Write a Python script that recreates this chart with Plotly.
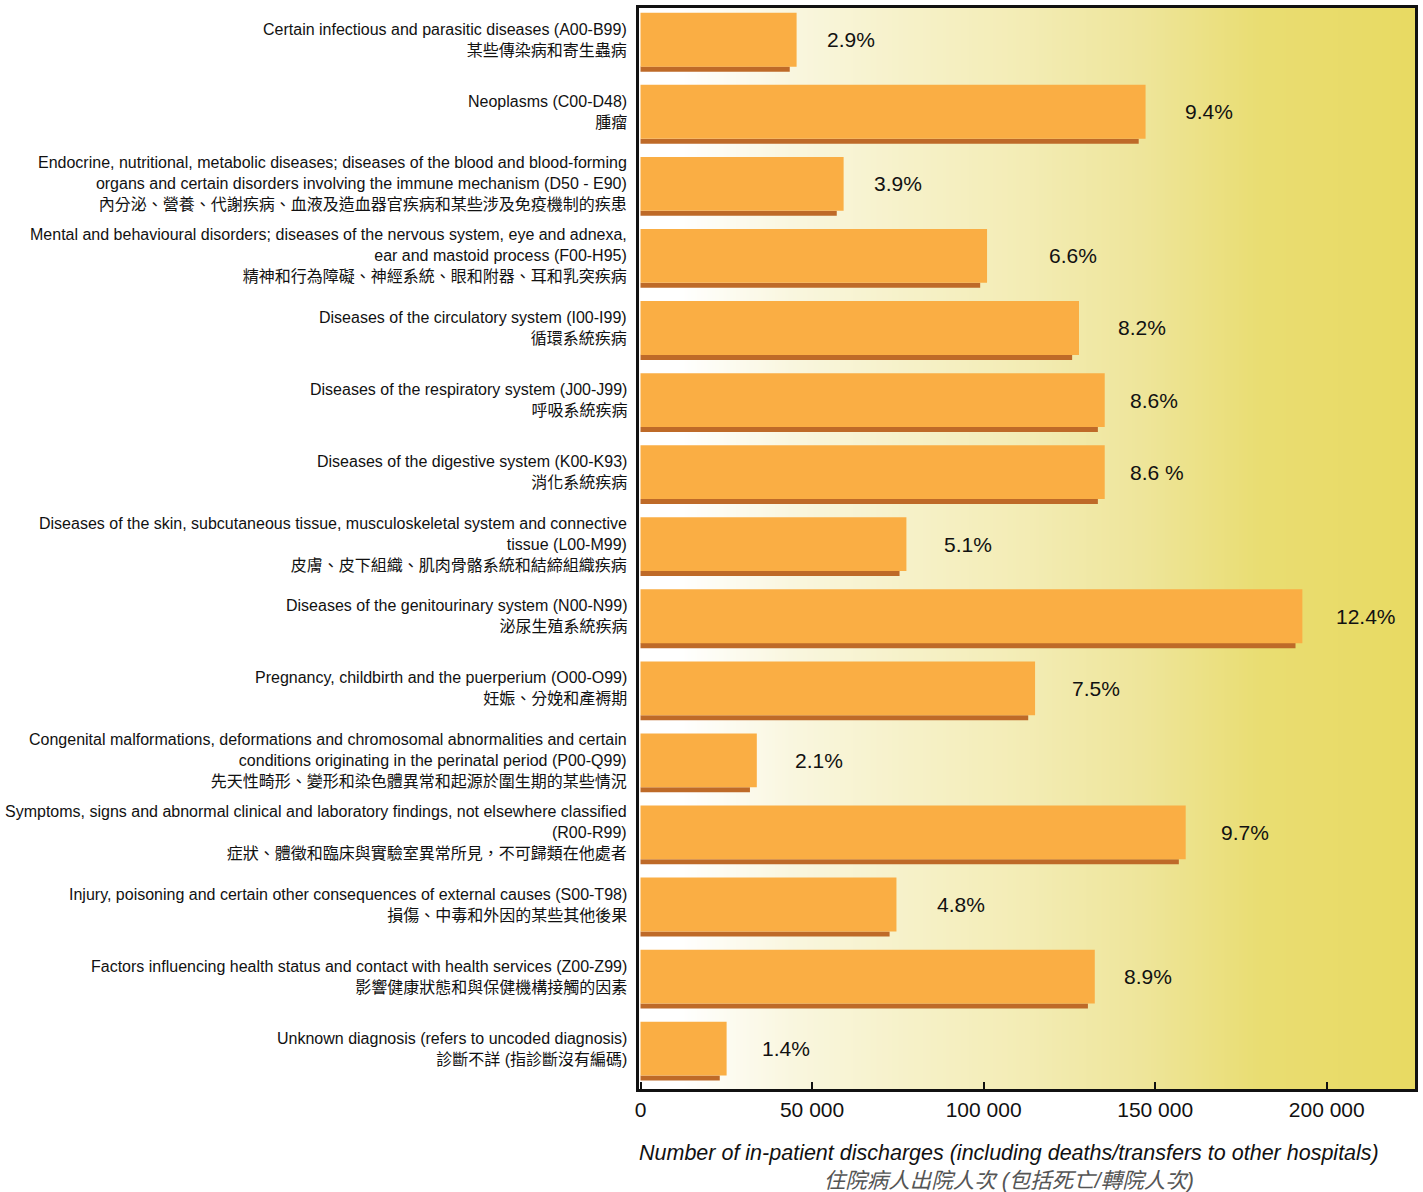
import numpy as np
import plotly.graph_objects as go

# Disease groups (ICD-10 chapters), English + Chinese label lines
categories_en = [
    "Certain infectious and parasitic diseases (A00-B99)",
    "Neoplasms (C00-D48)",
    "Endocrine, nutritional, metabolic diseases; diseases of the blood and blood-forming<br>organs and certain disorders involving the immune mechanism (D50 - E90)",
    "Mental and behavioural disorders; diseases of the nervous system, eye and adnexa,<br>ear and mastoid process (F00-H95)",
    "Diseases of the circulatory system (I00-I99)",
    "Diseases of the respiratory system (J00-J99)",
    "Diseases of the digestive system (K00-K93)",
    "Diseases of the skin, subcutaneous tissue, musculoskeletal system and connective<br>tissue (L00-M99)",
    "Diseases of the genitourinary system (N00-N99)",
    "Pregnancy, childbirth and the puerperium (O00-O99)",
    "Congenital malformations, deformations and chromosomal abnormalities and certain<br>conditions originating in the perinatal period (P00-Q99)",
    "Symptoms, signs and abnormal clinical and laboratory findings, not elsewhere classified<br>(R00-R99)",
    "Injury, poisoning and certain other consequences of external causes (S00-T98)",
    "Factors influencing health status and contact with health services (Z00-Z99)",
    "Unknown diagnosis (refers to uncoded diagnosis)",
]
categories_zh = [
    "某些傳染病和寄生蟲病",
    "腫瘤",
    "內分泌、營養、代謝疾病、血液及造血器官疾病和某些涉及免疫機制的疾患",
    "精神和行為障礙、神經系統、眼和附器、耳和乳突疾病",
    "循環系統疾病",
    "呼吸系統疾病",
    "消化系統疾病",
    "皮膚、皮下組織、肌肉骨骼系統和結締組織疾病",
    "泌尿生殖系統疾病",
    "妊娠、分娩和產褥期",
    "先天性畸形、變形和染色體異常和起源於圍生期的某些情況",
    "症狀、體徵和臨床與實驗室異常所見，不可歸類在他處者",
    "損傷、中毒和外因的某些其他後果",
    "影響健康狀態和與保健機構接觸的因素",
    "診斷不詳 (指診斷沒有編碼)",
]

# In-patient discharges per group
discharges = [45500, 147200, 59200, 101000, 127800, 135300, 135300, 77500,
              192900, 115000, 33900, 158900, 74600, 132400, 25100]
share_labels = ["2.9%", "9.4%", "3.9%", "6.6%", "8.2%", "8.6%", "8.6 %", "5.1%",
                "12.4%", "7.5%", "2.1%", "9.7%", "4.8%", "8.9%", "1.4%"]

tick_values = [0, 50000, 100000, 150000, 200000]
tick_labels = ["0", "50 000", "100 000", "150 000", "200 000"]

# Styling
label_gap_px = [28, 37, 28, 60, 37, 23, 23, 36, 32, 35, 36, 33, 39, 27, 33]
BAR = "#FAAE44"
SHADOW = "#BE6A28"
FONT = "Liberation Sans, Arial, Noto Sans CJK TC, sans-serif"
X_RANGE = [-436, 225727]
Y_RANGE = [14.56, -0.44]

n = len(discharges)
pos = list(range(n))

fig = go.Figure()

# Horizontal white-to-yellow wash behind the bars
gx = np.linspace(X_RANGE[0], X_RANGE[1], 200)
fig.add_trace(go.Heatmap(
    x=gx, y=[-1, 15], z=[gx, gx], zsmooth="best", showscale=False,
    hoverinfo="skip",
    colorscale=[
        [0.0, "#FFFFFF"], [0.05, "#FFFFFF"], [0.2, "#F9F6DE"],
        [0.35, "#F6F1C8"], [0.5, "#F3ECB4"], [0.65, "#EEE59A"],
        [0.8, "#E9DD72"], [1.0, "#E8DA62"],
    ],
))

# Dark strip under each bar, slightly shorter, gives a raised look
shadow_len = [v - 2000 for v in discharges]
fig.add_trace(go.Bar(
    x=shadow_len, y=[p + 0.408 for p in pos], orientation="h",
    width=0.07, marker=dict(color=SHADOW, line_width=0),
    hoverinfo="skip",
))
fig.add_trace(go.Bar(
    x=discharges, y=pos, orientation="h", width=0.747,
    marker=dict(color=BAR, line_width=0),
))

annotations = []
for i in range(n):
    annotations.append(dict(
        xref="paper", yref="y", x=0, y=i, xanchor="right", yanchor="middle",
        xshift=-10, align="right", showarrow=False,
        text=categories_en[i] + "<br>" + categories_zh[i],
        font=dict(family=FONT, size=16, color="#111111"),
    ))
    annotations.append(dict(
        xref="x", yref="y", x=discharges[i], y=i, xanchor="left",
        yanchor="middle", xshift=label_gap_px[i], showarrow=False,
        text=share_labels[i],
        font=dict(family=FONT, size=21, color="#111111"),
    ))

annotations.append(dict(
    xref="paper", yref="paper", x=0.5, y=0, xanchor="center", yanchor="top",
    xshift=-18, yshift=-50, showarrow=False, align="center",
    text="<i>Number of in-patient discharges (including deaths/transfers to other hospitals)</i>"
         "<br><span style='color:#555555'><i>住院病人出院人次 (包括死亡/轉院人次)</i></span>",
    font=dict(family=FONT, size=21.5, color="#111111"),
))

fig.update_layout(
    width=1423, height=1192,
    margin=dict(l=639, r=6, t=5, b=103),
    paper_bgcolor="white", plot_bgcolor="white",
    barmode="overlay", showlegend=False,
    annotations=annotations,
    font=dict(family=FONT, color="#111111"),
)
fig.update_xaxes(
    range=X_RANGE, tickvals=tick_values, ticktext=tick_labels,
    ticks="inside", ticklen=7, tickwidth=2, tickcolor="#111111",
    tickfont=dict(family=FONT, size=21, color="#111111"),
    showgrid=False, zeroline=False,
    showline=True, linewidth=3, linecolor="#111111", mirror=True,
)
fig.update_yaxes(
    range=Y_RANGE, showticklabels=False, ticks="", showgrid=False,
    zeroline=False, showline=True, linewidth=3, linecolor="#111111",
    mirror=True,
)

fig.write_html("out.html")
